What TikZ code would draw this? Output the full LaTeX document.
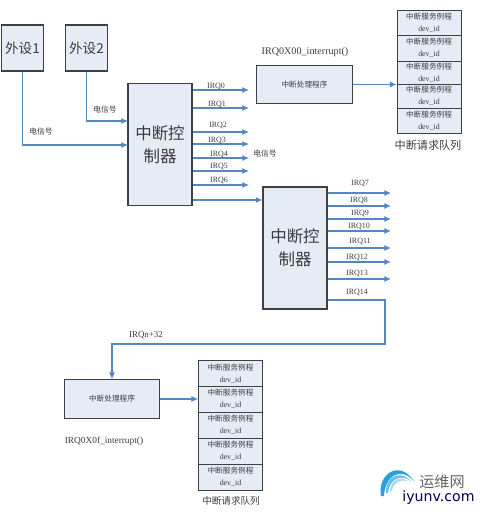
\documentclass[tikz,border=0pt]{standalone}
\usepackage{fontspec}
\setmainfont{Liberation Serif}
\newfontfamily\cjk{Noto Sans CJK SC}[Scale=0.97]
\newfontfamily\logofont{DejaVu Sans}
\usetikzlibrary{arrows.meta,positioning}
\definecolor{boxfill}{RGB}{230,236,246}
\definecolor{sigblue}{RGB}{84,134,196}
\definecolor{logoblue}{RGB}{40,160,220}
\definecolor{txtgray}{RGB}{60,60,60}
\tikzset{
  box/.style={draw=black!75,line width=0.8pt,fill=boxfill,inner sep=0pt,text=txtgray,align=center},
  sigline/.style={draw=sigblue,line width=0.8pt,-{Latex[length=5pt,width=4.5pt]}},
  lbl/.style={font=\fontsize{6}{7}\selectfont,text=txtgray,inner sep=0pt},
  rowbox/.style={box,line width=0.65pt,minimum width=48pt,font=\fontsize{5.9}{9}\selectfont},
}
\begin{document}
\begin{tikzpicture}[x=0.75pt,y=-0.75pt]
  \useasboundingbox (0,0) rectangle (482,514);
  % devices
  \node[box,minimum width=32pt,minimum height=34.5pt,font=\fontsize{10.5}{13}\selectfont] (dev1) at (22.5,48) {\cjk 外设1};
  \node[box,minimum width=32pt,minimum height=34.5pt,font=\fontsize{10.5}{13}\selectfont] (dev2) at (86.5,48) {\cjk 外设2};
  % controllers
  \node[box,minimum width=48pt,minimum height=91pt,font=\fontsize{12.75}{17.5}\selectfont] (ctrla) at (160,144.5) {\cjk 中断控\\\cjk 制器};
  \node[box,minimum width=48pt,minimum height=91.5pt,font=\fontsize{12.75}{17.5}\selectfont] (ctrlb) at (295,248) {\cjk 中断控\\\cjk 制器};
  % handlers
  \node[box,minimum width=71.5pt,minimum height=29pt,font=\fontsize{5.9}{7}\selectfont] (handa) at (304.5,84.5) {\cjk 中断处理程序};
  \node[box,minimum width=71.5pt,minimum height=29pt,font=\fontsize{5.9}{7}\selectfont] (handb) at (112,399) {\cjk 中断处理程序};
  % request queues
  \foreach \y/\h/\n in {22.5/25/1,48/26/2,72.5/23/3,96/24/4,120.5/25/5} {
    \node[rowbox,minimum height=\h*0.75pt] (qa\n) at (429,\y) {\cjk 中断服务例程\\dev\_id};
  }
  \foreach \y/\n in {373.5/1,399/2,425/3,451/4,477/5} {
    \node[rowbox,minimum height=19.5pt] (qb\n) at (230.5,\y) {\cjk 中断服务例程\\dev\_id};
  }
  % inputs of the first controller
  \coordinate (ina) at (128,145);
  \coordinate (inb) at (128,121);
  \draw[sigline] (dev1.south) |- (ina);
  \draw[sigline] (dev2.south) |- (inb);
  \node[lbl] (siga) at (41,132) {\cjk 电信号};
  \node[lbl] (sigb) at (105,110) {\cjk 电信号};
  % outputs of the first controller
  \foreach \y/\tx/\ty/\l in {90/216/86/0,108/217/104/1,132/218/125/2,144/217/140/3,158/219/154/4,171/219/166/5,185/219/180/6} {
    \coordinate (irqa\l) at (249,\y);
    \draw[sigline] (irqa\l -| ctrla.east) -- (irqa\l);
    \node[lbl] (lirq\l) at (\tx,\ty) {IRQ\l};
  }
  \node[lbl] (sigc) at (265,154) {\cjk 电信号};
  \coordinate (inc) at (263,200);
  \draw[sigline] (inc -| ctrla.east) -- (ctrlb.west |- inc);
  % outputs of the second controller
  \foreach \y/\tx/\ty/\l in {193/360/183/7,206/359/200/8,219/360/213/9,231/359/226/10,248/360/241/11,262/357/257/12,279/357/273/13} {
    \coordinate (irqb\l) at (391,\y);
    \draw[sigline] (irqb\l -| ctrlb.east) -- (irqb\l);
    \node[lbl] (lirq\l) at (\tx,\ty) {IRQ\l};
  }
  \node[lbl] (lirq14) at (357,292) {IRQ14};
  \coordinate (bendb) at (385,300);
  \coordinate (bendc) at (385,344);
  \draw[sigline] (bendb -| ctrlb.east) -- (bendb) -- (bendc) -| (handb.north);
  \node[lbl,font=\fontsize{6.7}{8}\selectfont] (lirqn) at (146,335) {IRQn+32};
  % handler to queue
  \draw[sigline] (handa.east) -- (handa.east -| qa4.west);
  \draw[sigline] (handb.east) -- (handb.east -| qb2.west);
  % captions
  \node[lbl,font=\fontsize{7.6}{9}\selectfont] (funa) at (305,52) {IRQ0X00\_interrupt()};
  \node[lbl,font=\fontsize{7}{9}\selectfont] (funb) at (104,441) {IRQ0X0f\_interrupt()};
  \node[lbl,font=\fontsize{8.6}{10}\selectfont] (capa) at (428,145) {\cjk 中断请求队列};
  \node[lbl,font=\fontsize{7.4}{9}\selectfont] (capb) at (231,501) {\cjk 中断请求队列};
  % logo
  \fill[logoblue] (381,496) .. controls (377,476) and (398,458) .. (414,481)
    .. controls (400,466) and (385,476) .. (384,496) -- cycle;
  \fill[logoblue!70] (386,493) .. controls (385,479) and (398,468) .. (411,481)
    .. controls (400,473) and (389,480) .. (388,493) -- cycle;
  \fill[logoblue!40] (390,491) .. controls (390,481) and (400,474) .. (409,482)
    .. controls (401,478) and (393,483) .. (392,491) -- cycle;
  \node[font=\fontsize{11.7}{13}\selectfont,text=black!60,inner sep=0pt] (logocn) at (442,482) {\cjk 运维网};
  \node[font=\fontsize{10.6}{12}\selectfont,text=black!70!blue,inner sep=0pt] (logoen) at (438.5,498) {\logofont iyunv.com};
\end{tikzpicture}
\end{document}
